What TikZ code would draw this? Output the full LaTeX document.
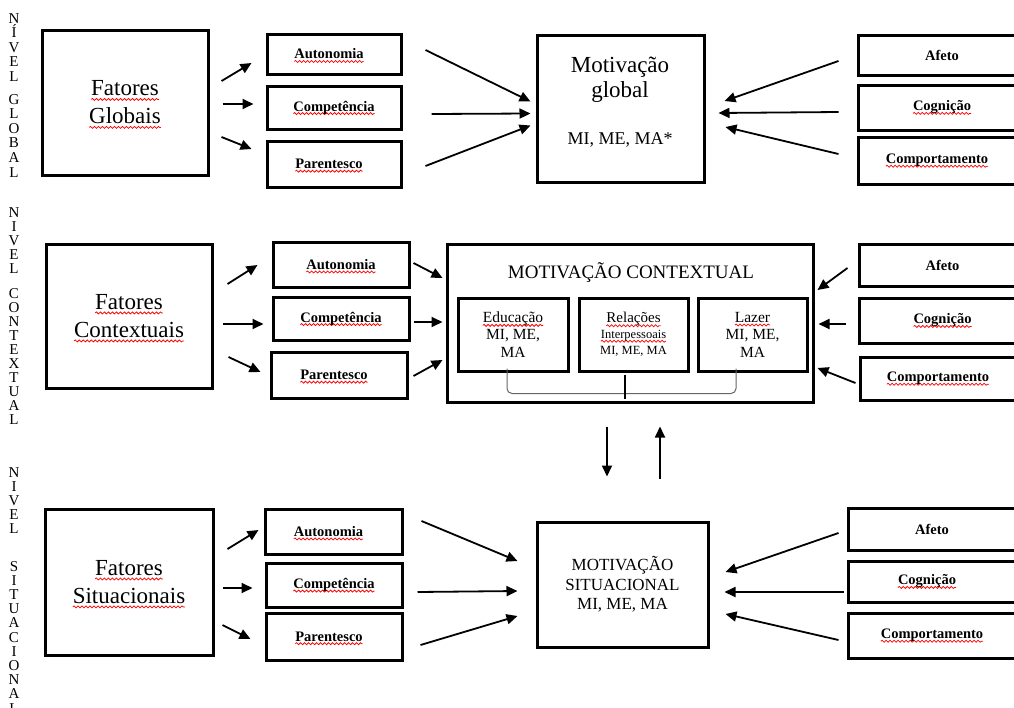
\documentclass[tikz,border=0pt]{standalone}
\usepackage{fontspec}
\setmainfont{Liberation Serif}
\usetikzlibrary{arrows.meta,calc,decorations.pathmorphing}

% red wavy underline (spell-check style) under a word
\newsavebox\sqbox
\newdimen\sqw
\newcommand\sq[2][3pt]{\leavevmode\sbox\sqbox{#2}\sqw=\wd\sqbox
  \rlap{\tikz[baseline=0pt,x=1pt,y=1pt]{\useasboundingbox (0,0);
    \draw[red, line width=0.75pt, decorate,
      decoration={snake, amplitude=1pt, segment length=4pt}]
      (0pt,-#1) -- (\sqw,-#1);}}\usebox\sqbox}

% box given by its corners: [options]{name}{x1}{y1}{x2}{y2}{text}
\newcommand\cornerbox[7][]{%
  \node[box,#1,minimum width={#5pt-#3pt},minimum height={#6pt-#4pt}]
    (#2) at ({(#3+#5)/2},{(#4+#6)/2}) {#7};}

\tikzset{
  box/.style={draw, line width=3pt, inner sep=0pt, align=center},
  lbl/.style={font=\fontsize{14.5}{16}\selectfont\bfseries},
  big/.style={font=\fontsize{23}{28}\selectfont},
  arr/.style={line width=1.8pt, -{Triangle[length=11pt,width=10pt]}},
  vtext/.style={anchor=north, inner sep=0pt, align=center},
}

\begin{document}
\begin{tikzpicture}[x=1pt,y=-1pt]
\useasboundingbox (0,0) rectangle (1014,707);
\fill[white] (0,0) rectangle (1014,707);

% ---------- level labels ----------
\node[vtext, font=\fontsize{15}{14.6}\selectfont] (lvG) at (14,13)
  {N\\Í\\V\\E\\L\\[8pt]G\\L\\O\\B\\A\\L};
\node[vtext, font=\fontsize{15}{14}\selectfont] (lvC) at (14,207)
  {N\\I\\V\\E\\L\\[11pt]C\\O\\N\\T\\E\\X\\T\\U\\A\\L};
\node[vtext, font=\fontsize{15}{14.2}\selectfont] (lvS) at (14,467)
  {N\\I\\V\\E\\L\\[23pt]S\\I\\T\\U\\A\\C\\I\\O\\N\\A\\L};

% ---------- global level ----------
\cornerbox[big]{fg}{42}{30}{208}{175}{\sq[3.5pt]{Fatores}\\\sq[3.5pt]{Globais}}
\cornerbox[lbl]{a1}{267}{34}{401}{74}{\sq[2.5pt]{Autonomia}\hspace*{10pt}}
\cornerbox[lbl]{c1}{267}{86}{401}{129}{\sq[2.5pt]{Competência}}
\cornerbox[lbl]{p1}{267}{141}{401}{187}{\sq[2.5pt]{Parentesco}\hspace*{10pt}}
\cornerbox{mg}{537}{35}{704}{182}{}
\node[anchor=base, font=\fontsize{23}{28}\selectfont] (mgA) at (620,72) {Motivação};
\node[anchor=base, font=\fontsize{23}{28}\selectfont] (mgB) at (620,97) {global};
\node[anchor=base, font=\fontsize{18}{20}\selectfont] (mgC) at (620,144) {MI, ME, MA*};
\cornerbox[lbl]{af1}{858}{35}{1026}{75}{Afeto}
\cornerbox[lbl]{cg1}{858}{85}{1026}{130}{\sq[2.5pt]{Cognição}}
\cornerbox[lbl]{cp1}{858}{137}{1026}{184}{\sq[2.5pt]{Comportamento}\hspace*{10pt}}

\draw[arr] ($(fg.east)+(12,-21.5)$) -- ($(a1.west)+(-14,9)$);
\draw[arr] ($(fg.east)+(13,1.5)$) -- ($(c1.west)+(-12,-3.5)$);
\draw[arr] ($(fg.east)+(12,34.5)$) -- ($(p1.west)+(-14,-15)$);
\draw[arr] ($(a1.east)+(23,-4)$) -- ($(mg.west)+(-5,-7)$);
\draw[arr] ($(c1.east)+(29,6.5)$) -- ($(mg.west)+(-5,5)$);
\draw[arr] ($(p1.east)+(23,2)$) -- ($(mg.west)+(-5,17)$);
\draw[arr] ($(af1.west)+(-18,6)$) -- ($(mg.east)+(19,-7.5)$);
\draw[arr] ($(cg1.west)+(-18,4.5)$) -- ($(mg.east)+(13,4.5)$);
\draw[arr] ($(cp1.west)+(-18,-6.5)$) -- ($(mg.east)+(20,18.5)$);

% ---------- contextual level ----------
\cornerbox[big]{fc}{46}{244}{212}{388}{\sq[3.5pt]{Fatores}\\\sq[3.5pt]{Contextuais}}
\cornerbox[lbl]{a2}{273}{242}{409}{287}{\sq[2.5pt]{Autonomia}}
\cornerbox[lbl]{c2}{273}{297}{409}{340}{\sq[2.5pt]{Competência}}
\cornerbox[lbl]{p2}{271}{352}{407}{398}{\sq[2.5pt]{Parentesco}\hspace*{10pt}}
\cornerbox{mc}{447}{244}{813}{402}{}
\node[font=\fontsize{19}{22}\selectfont] (mcT) at (631,273) {MOTIVAÇÃO CONTEXTUAL};
\cornerbox[font=\fontsize{15.5}{17.5}\selectfont]{ed}{458}{298}{568}{371}{\sq{Educação}\\MI, ME,\\MA}
\cornerbox[font=\fontsize{15}{16}\selectfont]{rl}{579}{298}{688}{371}{\sq{Relações}\\{\fontsize{12.5}{14}\selectfont\sq[2.5pt]{Interpessoais}}\\{\fontsize{12.5}{14}\selectfont MI, ME, MA}}
\cornerbox[font=\fontsize{15.5}{17.5}\selectfont]{lz}{698}{298}{807}{371}{\sq{Lazer}\\MI, ME,\\MA}
\cornerbox[lbl]{af2}{859}{244}{1026}{286}{Afeto}
\cornerbox[lbl]{cg2}{859}{298}{1026}{343}{\sq[2.5pt]{Cognição}}
\cornerbox[lbl]{cp2}{860}{357}{1026}{400}{\sq[2.5pt]{Comportamento}\hspace*{10pt}}

% bracket joining the three contexts
\draw[black!60, line width=1pt, rounded corners=5pt]
  ($(ed.south)+(-6,-4)$) -- ($(ed.south)+(-6,21)$) -| ($(lz.south)+(-16.5,-4)$);
\draw[line width=1.5pt] ($(rl.south)+(-8.5,2)$) -- ($(rl.south)+(-8.5,26)$);

\draw[arr] ($(fc.east)+(14,-32)$) -- ($(a2.west)+(-14,0.5)$);
\draw[arr] ($(fc.east)+(9,8)$) -- ($(c2.west)+(-8,5.5)$);
\draw[arr] ($(fc.east)+(15,41)$) -- ($(p2.west)+(-9,-3)$);
\draw[arr] ($(a2.east)+(3,-1.5)$) -- ($(mc.west)+(-3,-45)$);
\draw[arr] ($(c2.east)+(3,3.5)$) -- ($(mc.west)+(-3,-1)$);
\draw[arr] ($(p2.east)+(5,1)$) -- ($(mc.west)+(-3,37)$);
\draw[arr] ($(af2.west)+(-10,3)$) -- ($(mc.east)+(3,-33)$);
\draw[arr] ($(cg2.west)+(-12,3.5)$) -- ($(mc.east)+(4,1)$);
\draw[arr] ($(cp2.west)+(-3,4.5)$) -- ($(mc.east)+(3,45)$);

% ---------- situational level ----------
\cornerbox[big]{fs}{45}{509}{213}{655}{\sq[3.5pt]{Fatores}\\\sq[3.5pt]{Situacionais}}
\cornerbox[lbl]{a3}{265}{509}{402}{554}{\sq[2.5pt]{Autonomia}\hspace*{10pt}}
\cornerbox[lbl]{c3}{266}{563}{402}{607}{\sq[2.5pt]{Competência}}
\cornerbox[lbl]{p3}{266}{613}{402}{660}{\sq[2.5pt]{Parentesco}\hspace*{10pt}}
\cornerbox[font=\fontsize{17}{19.5}\selectfont]{ms}{537}{522}{708}{647}{MOTIVAÇÃO\\SITUACIONAL\\MI, ME, MA}
\cornerbox[lbl]{af3}{848}{508}{1016}{550}{Afeto}
\cornerbox[lbl]{cg3}{848}{561}{1016}{602}{\sq[2.5pt]{Cognição}\hspace*{10pt}}
\cornerbox[lbl]{cp3}{848}{613}{1016}{658}{\sq[2.5pt]{Comportamento}}

\draw[arr] ($(fs.east)+(13,-33)$) -- ($(a3.west)+(-5,-1.5)$);
\draw[arr] ($(fs.east)+(8,6)$) -- ($(c3.west)+(-12,3)$);
\draw[arr] ($(fs.east)+(8,43)$) -- ($(p3.west)+(-14,2.5)$);
\draw[arr] ($(a3.east)+(18,-10.5)$) -- ($(ms.west)+(-18,-23.5)$);
\draw[arr] ($(c3.east)+(14,7)$) -- ($(ms.west)+(-18,6.5)$);
\draw[arr] ($(p3.east)+(17,8.5)$) -- ($(ms.west)+(-18,31.5)$);
\draw[arr] ($(af3.west)+(-8,4)$) -- ($(ms.east)+(16,-12.5)$);
\draw[arr] ($(cg3.west)+(-3,10.5)$) -- ($(ms.east)+(15,7.5)$);
\draw[arr] ($(cp3.west)+(-8,4.5)$) -- ($(ms.east)+(16,29.5)$);

% ---------- links between contextual and situational ----------
\draw[arr] ($(mc.south)+(-23,23)$) -- ($(ms.north)+(-15.5,-44)$);
\draw[arr] ($(ms.north)+(37.5,-42)$) -- ($(mc.south)+(30,23)$);
\end{tikzpicture}
\end{document}
